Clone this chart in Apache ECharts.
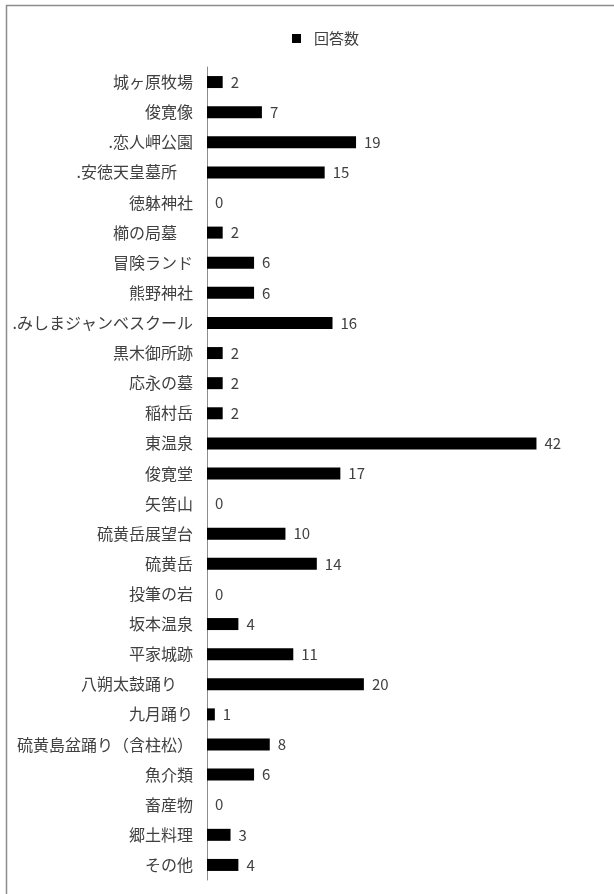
<!DOCTYPE html>
<html>
<head>
<meta charset="utf-8">
<script src="https://cdn.jsdelivr.net/npm/echarts@6/dist/echarts.min.js"></script>
<style>
html,body{margin:0;padding:0;background:#fff;}
#chart{width:614px;height:894px;}
</style>
</head>
<body>
<div id="chart"></div>
<script>
const categories = [
  "城ヶ原牧場","俊寛像",".恋人岬公園",".安徳天皇墓所\u3000","徳躰神社","櫛の局墓\u3000","冒険ランド","熊野神社",
  ".みしまジャンベスクール","黒木御所跡","応永の墓","稲村岳","東温泉","俊寛堂","矢筈山","硫黄岳展望台",
  "硫黄岳","投筆の岩","坂本温泉","平家城跡","八朔太鼓踊り\u3000","九月踊り","硫黄島盆踊り（含柱松）","魚介類",
  "畜産物","郷土料理","その他"
];
const values = [2,7,19,15,0,2,6,6,16,2,2,2,42,17,0,10,14,0,4,11,20,1,8,6,0,3,4];
const seriesName = "回答数";

const font = '"Noto Sans CJK JP","Noto Sans",sans-serif';
const chart = echarts.init(document.getElementById('chart'), null, {renderer:'canvas'});
chart.setOption({
  animation:false,
  backgroundColor:'#fff',
  graphic:[{type:'rect',shape:{x:6.5,y:5.5,width:620,height:900},style:{fill:'none',stroke:'#8c8c8c',lineWidth:1.5},silent:true}],
  legend:{
    data:[seriesName], left:287, top:26, icon:'rect', itemWidth:9, itemHeight:9,
    textStyle:{fontFamily:font,fontSize:15,color:'#404040',padding:[0,0,0,8]}
  },
  grid:{left:207,right:54,top:67,bottom:14,containLabel:false},
  xAxis:{type:'value',min:0,max:45,show:false},
  yAxis:{
    type:'category',data:categories,inverse:true,
    axisLine:{show:true,lineStyle:{color:'#8c8c8c',width:1}},
    axisTick:{show:false},
    axisLabel:{fontFamily:font,fontSize:16,color:'#404040',margin:14}
  },
  series:[{
    name:seriesName,type:'bar',data:values,barWidth:12,
    itemStyle:{color:'#000'},
    label:{show:true,position:'right',distance:8,fontFamily:font,fontSize:15,color:'#404040'}
  }]
});
</script>
</body>
</html>
